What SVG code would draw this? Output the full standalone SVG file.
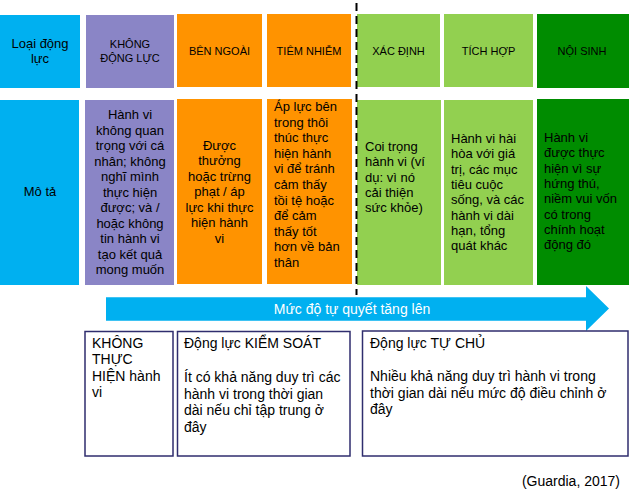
<svg xmlns="http://www.w3.org/2000/svg" width="629" height="499" viewBox="0 0 629 499">
<style>
text{font-family:"Liberation Sans",Arial,sans-serif;fill:#000}
.h{font-size:11px;text-anchor:middle}
.t{font-size:13px}
.c{text-anchor:middle}
.b{font-size:14px}
.box{fill:#fff;stroke:#2f2d6e;stroke-width:1.5}
.blue{fill:#00B0F0}.purple{fill:#8A85C6}.orange{fill:#FF9300}.lgreen{fill:#92D050}.dgreen{fill:#008C00}
</style>
<rect width="629" height="499" fill="#fff"/>
<g id="row-type">
<g id="n-loai"><rect class="blue" x="0" y="15" width="80" height="73"/><text class="t c" x="40" y="48">Loại động</text><text class="t c" x="40" y="63">lực</text></g>
<g id="n-khong"><rect class="purple" x="86" y="15" width="88" height="73"/><text class="h" x="130" y="48">KHÔNG</text><text class="h" x="130" y="62">ĐỘNG LỰC</text></g>
<g id="n-benngoai"><rect class="orange" x="177" y="14" width="85" height="73"/><text class="h" x="219.5" y="55">BÊN NGOÀI</text></g>
<g id="n-tiemnhiem"><rect class="orange" x="267" y="14" width="84" height="73"/><text class="h" x="309" y="55">TIÊM NHIỄM</text></g>
<g id="n-xacdinh"><rect class="lgreen" x="357" y="14" width="83" height="73"/><text class="h" x="398.5" y="55">XÁC ĐỊNH</text></g>
<g id="n-tichhop"><rect class="lgreen" x="444" y="14" width="89" height="73"/><text class="h" x="488.5" y="55">TÍCH HỢP</text></g>
<g id="n-noisinh"><rect class="dgreen" x="537" y="14" width="92" height="74"/><text class="h" x="582" y="55">NỘI SINH</text></g>
</g>
<g id="row-desc">
<g id="d-mota"><rect class="blue" x="0" y="100" width="79" height="185"/><text class="t c" x="40" y="196">Mô tả</text></g>
<g id="d-khong"><rect class="purple" x="85" y="100" width="89" height="185"/>
<text class="t c" x="130">
<tspan x="130" y="119">Hành vi</tspan><tspan x="130" y="134.5">không quan</tspan><tspan x="130" y="150">trọng với cá</tspan><tspan x="130" y="165.5">nhân; không</tspan><tspan x="130" y="181">nghĩ mình</tspan><tspan x="130" y="196.5">thực hiện</tspan><tspan x="130" y="212">được; và /</tspan><tspan x="130" y="227.5">hoặc không</tspan><tspan x="130" y="243">tin hành vi</tspan><tspan x="130" y="258.5">tạo kết quả</tspan><tspan x="130" y="274">mong muốn</tspan></text></g>
<g id="d-benngoai"><rect class="orange" x="177" y="99" width="85" height="185"/>
<text class="t c"><tspan x="219.5" y="149.5">Được</tspan><tspan x="219.5" y="165">thưởng</tspan><tspan x="219.5" y="180.5">hoặc trừng</tspan><tspan x="219.5" y="196">phạt / áp</tspan><tspan x="219.5" y="211.5">lực khi thực</tspan><tspan x="219.5" y="227">hiện hành</tspan><tspan x="219.5" y="242.5">vi</tspan></text></g>
<g id="d-tiemnhiem"><rect class="orange" x="267" y="99" width="85" height="185"/>
<text class="t"><tspan x="274" y="111">Áp lực bên</tspan><tspan x="274" y="126.6">trong thôi</tspan><tspan x="274" y="142.2">thúc thực</tspan><tspan x="274" y="157.8">hiện hành</tspan><tspan x="274" y="173.4">vi để tránh</tspan><tspan x="274" y="189">cảm thấy</tspan><tspan x="274" y="204.6">tồi tệ hoặc</tspan><tspan x="274" y="220.2">để cảm</tspan><tspan x="274" y="235.8">thấy tốt</tspan><tspan x="274" y="251.4">hơn về bản</tspan><tspan x="274" y="267">thân</tspan></text></g>
<g id="d-xacdinh"><rect class="lgreen" x="357" y="100" width="84" height="185"/>
<text class="t"><tspan x="365" y="151">Coi trọng</tspan><tspan x="365" y="166.3">hành vi (ví</tspan><tspan x="365" y="181.6">dụ: vì nó</tspan><tspan x="365" y="196.9">cải thiện</tspan><tspan x="365" y="212.2">sức khỏe)</tspan></text></g>
<g id="d-tichhop"><rect class="lgreen" x="444" y="100" width="89" height="185"/>
<text class="t"><tspan x="451" y="143">Hành vi hài</tspan><tspan x="451" y="158.3">hòa với giá</tspan><tspan x="451" y="173.6">trị, các mục</tspan><tspan x="451" y="188.9">tiêu cuộc</tspan><tspan x="451" y="204.2">sống, và các</tspan><tspan x="451" y="219.5">hành vi dài</tspan><tspan x="451" y="234.8">hạn, tổng</tspan><tspan x="451" y="250.1">quát khác</tspan></text></g>
<g id="d-noisinh"><rect class="dgreen" x="537" y="99" width="92" height="186"/>
<text class="t"><tspan x="544" y="142">Hành vi</tspan><tspan x="544" y="157.3">được thực</tspan><tspan x="544" y="172.6">hiện vì sự</tspan><tspan x="544" y="187.9">hứng thú,</tspan><tspan x="544" y="203.2">niềm vui vốn</tspan><tspan x="544" y="218.5">có trong</tspan><tspan x="544" y="233.8">chính hoạt</tspan><tspan x="544" y="249.1">động đó</tspan></text></g>
</g>
<g id="connectors">
<line x1="356.5" y1="3" x2="356.5" y2="295" stroke="#000" stroke-width="2" stroke-dasharray="8 5"/>
<polygon points="106,297.3 586,297.3 586,286 609,308.5 586,331 586,320.7 106,320.7" fill="#00B0F0"/>
<text x="352" y="314" style="font-size:14px;fill:#fff;text-anchor:middle">Mức độ tự quyết tăng lên</text>
</g>
<g id="b-khong"><rect class="box" x="85" y="331.5" width="88" height="124.5"/>
<text class="b"><tspan x="92" y="347.7">KHÔNG</tspan><tspan x="92" y="364.2">THỰC</tspan><tspan x="92" y="380.7">HIỆN hành</tspan><tspan x="92" y="397.2">vi</tspan></text></g>
<g id="b-kiemsoat"><rect class="box" x="177.5" y="331.5" width="172.5" height="124.5"/>
<text class="b"><tspan x="184" y="347.7">Động lực KIỂM SOÁT</tspan><tspan x="184" y="382.3">Ít có khả năng duy trì các</tspan><tspan x="184" y="398.8">hành vi trong thời gian</tspan><tspan x="184" y="415.3">dài nếu chỉ tập trung ở</tspan><tspan x="184" y="431.8">đây</tspan></text></g>
<g id="b-tuchu"><rect class="box" x="362.5" y="331" width="265.5" height="125"/>
<text class="b"><tspan x="370" y="347.7">Động lực TỰ CHỦ</tspan><tspan x="370" y="381.3">Nhiều khả năng duy trì hành vi trong</tspan><tspan x="370" y="397.8">thời gian dài nếu mức độ điều chỉnh ở</tspan><tspan x="370" y="414.3">đây</tspan></text></g>
<text class="b" x="620" y="486" style="text-anchor:end">(Guardia, 2017)</text>
</svg>
